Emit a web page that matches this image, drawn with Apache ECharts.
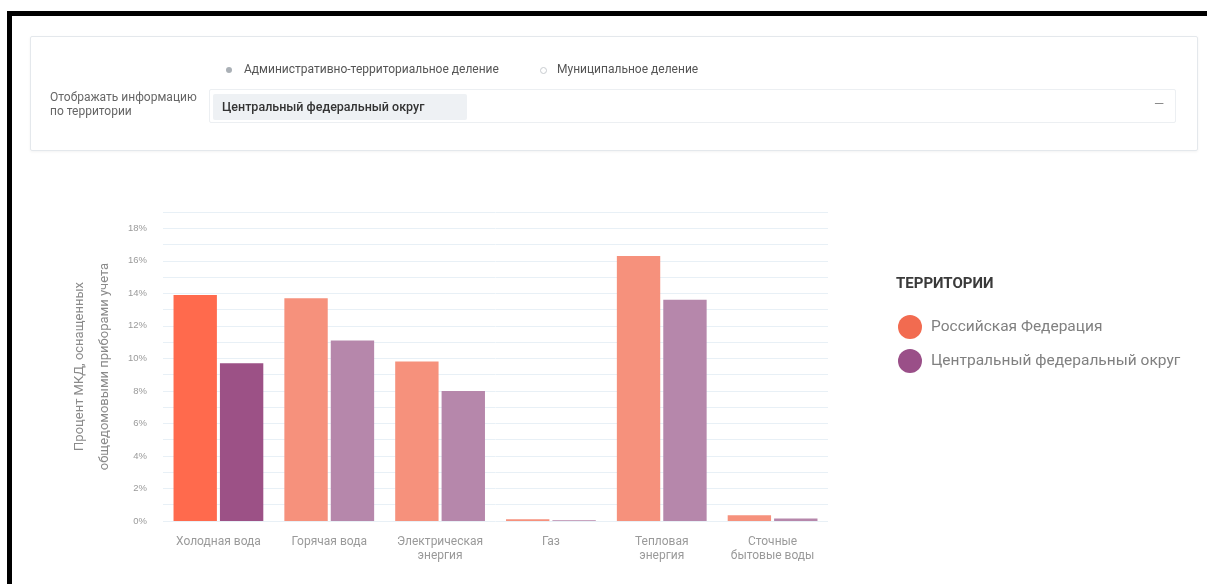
<!DOCTYPE html>
<html>
<head>
<meta charset="utf-8">
<script src="https://cdn.jsdelivr.net/npm/echarts@6/dist/echarts.min.js"></script>
<style>
  html, body { margin: 0; padding: 0; background: #fff; font-family: Roboto, "Noto Sans", sans-serif; }
  #chart { position: absolute; left: 0; top: 0; width: 1207px; height: 584px; }
  .frame-top { position: absolute; left: 7px; top: 11px; width: 1200px; height: 5px; background: #000; }
  .frame-left { position: absolute; left: 7px; top: 11px; width: 5px; height: 573px; background: #000; }
  .panel { position: absolute; left: 30px; top: 36px; width: 1166px; height: 113px; border: 1px solid #e4e8ec; border-radius: 2px; background: #fff; box-shadow: 0 1px 3px rgba(0,0,0,0.05); }
  .txt { position: absolute; font-size: 12px; color: #555; white-space: nowrap; }
  .dot { position: absolute; width: 6px; height: 6px; border-radius: 50%; }
  .select { position: absolute; left: 209px; top: 89px; width: 965px; height: 32px; border: 1px solid #eceff2; border-radius: 2px; }
  .chip { position: absolute; left: 213px; top: 94px; width: 254px; height: 26px; background: #eef1f4; border-radius: 2px; }
</style>
</head>
<body>
<div id="chart"></div>
<div class="panel"></div>
<div class="dot" style="left:226px;top:67px;background:#aab0b6;"></div>
<div class="txt" style="left:244px;top:62px;">Административно-территориальное деление</div>
<div class="dot" style="left:540px;top:67px;border:1px solid #c8ccd0;width:5px;height:5px;"></div>
<div class="txt" style="left:557px;top:62px;">Муниципальное деление</div>
<div class="txt" style="left:50px;top:90px;line-height:14px;color:#666;">Отображать информацию<br>по территории</div>
<div class="select"></div>
<div class="chip"></div>
<div class="txt" style="left:222px;top:99px;color:#333;font-weight:500;font-size:12.5px;">Центральный федеральный округ</div>
<div class="txt" style="left:1154px;top:96px;color:#888;font-size:13px;">—</div>
<div class="frame-top"></div>
<div class="frame-left"></div>
<script>
var categories = ['Холодная вода', 'Горячая вода', 'Электрическая\nэнергия', 'Газ', 'Тепловая\nэнергия', 'Сточные\nбытовые воды'];
var seriesNames = ['Российская Федерация', 'Центральный федеральный округ'];
var rfValues = [13.9, 13.7, 9.8, 0.1, 16.3, 0.35];
var cfoValues = [9.7, 11.1, 8.0, 0.05, 13.6, 0.15];
var activeIndex = 0;

var chart = echarts.init(document.getElementById('chart'), null, { renderer: 'canvas' });

function buildData(values, strong, faded) {
  return values.map(function (v, i) {
    return { value: v, itemStyle: { color: i === activeIndex ? strong : faded } };
  });
}

var option = {
  animation: false,
  title: {
    text: 'ТЕРРИТОРИИ',
    left: 891,
    top: 272,
    textStyle: { fontSize: 15, fontWeight: 'bold', color: '#3a3a3a', fontFamily: 'Roboto' }
  },
  legend: {
    orient: 'vertical',
    left: 893,
    top: 310,
    icon: 'circle',
    itemWidth: 24,
    itemHeight: 24,
    itemGap: 10,
    data: seriesNames,
    textStyle: { fontSize: 15.5, color: '#808080', fontFamily: 'Roboto', padding: [0, 0, 0, 4] }
  },
  grid: { left: 163, right: 379, top: 212, bottom: 63 },
  xAxis: {
    type: 'category',
    data: categories,
    axisLine: { show: false },
    axisTick: { show: false },
    axisLabel: { interval: 0, color: '#9a9a9a', fontSize: 12, lineHeight: 14, margin: 14, fontFamily: 'Roboto' }
  },
  yAxis: {
    type: 'value',
    min: 0,
    max: 19,
    interval: 1,
    name: 'Процент МКД, оснащенных\nобщедомовыми приборами учета',
    nameLocation: 'middle',
    nameRotate: 90,
    nameGap: 41,
    nameTextStyle: { fontSize: 13, color: '#8a8a8a', lineHeight: 25, fontFamily: 'Roboto' },
    axisLine: { show: false },
    axisTick: { show: false },
    axisLabel: {
      color: '#9a9a9a',
      fontSize: 9.5,
      margin: 16,
      formatter: function (v) { return v % 2 === 0 ? v + '%' : ''; }
    },
    splitLine: { lineStyle: { color: '#e8f0f6', width: 1 } }
  },
  color: ['#f26b50', '#9a4f88'],
  series: [
    {
      name: seriesNames[0],
      type: 'bar',
      barGap: '7%',
      barCategoryGap: '19%',
      data: buildData(rfValues, '#ff6a4d', '#f6917c')
    },
    {
      name: seriesNames[1],
      type: 'bar',
      data: buildData(cfoValues, '#9c5186', '#b687ab')
    }
  ]
};

chart.setOption(option);
window.addEventListener('resize', chart.resize);
</script>
</body>
</html>
